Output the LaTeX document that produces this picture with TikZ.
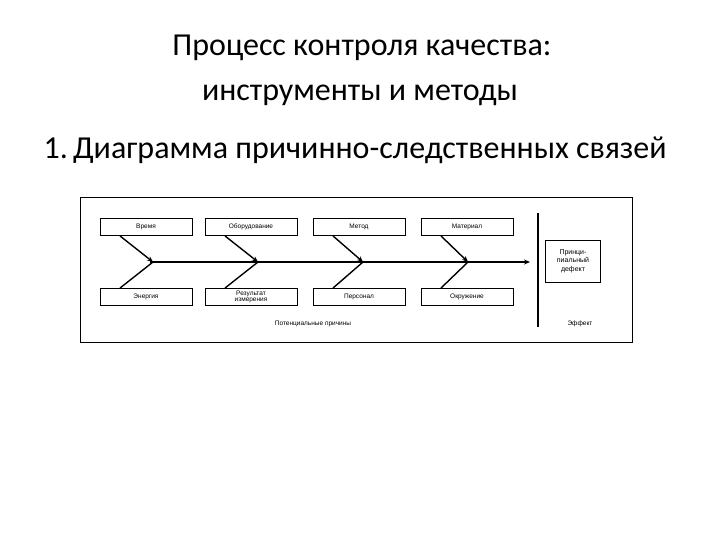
\documentclass[tikz,border=0pt]{standalone}
\usepackage{fontspec}
\usetikzlibrary{arrows.meta}
\setmainfont{Carlito}
\newfontfamily\smallsans{Liberation Sans}
\begin{document}
\begin{tikzpicture}[x=1pt,y=-1pt,
  cause/.style={draw,line width=0.9pt,minimum width=92pt,minimum height=17pt,inner sep=0pt,font=\smallsans\fontsize{6.5}{6.5}\selectfont,align=center},
  bone/.style={line width=1.4pt,-{Stealth[length=6pt,width=5pt]}},
  title/.style={font=\fontsize{32}{36}\selectfont,anchor=center}]
\useasboundingbox (0,0) rectangle (720,540);
\node[title] (t1) at (362,48) {Процесс контроля качества:};
\node[title] (t2) at (360,95) {инструменты и методы};
\node[title,anchor=west] (t3) at (40,150) {1.\,Диаграмма причинно-следственных связей};
\node[draw,line width=0.9pt,minimum width=552pt,minimum height=145pt,anchor=north west] (frame) at (80,197) {};
\foreach \n/\x/\t in {a/146/Время,b/251/Оборудование,c/359/Метод,d/467/Материал}
  \node[cause] (\n) at (\x,227) {\t};
\foreach \n/\x/\t in {e/146/Энергия,f/251/{Результат\\[-1pt]измерения},g/359/Персонал,h/467/Окружение}
  \node[cause] (\n) at (\x,297) {\t};
\coordinate (s0) at (150,262);
\coordinate (s1) at (530,262);
\draw[bone] (s0) -- (s1);
\foreach \n/\m/\x in {a/e/153,b/f/258,c/g/363,d/h/468}{
  \coordinate (p\n) at (\x,262);
  \draw[bone] ([xshift=-26pt]\n.south) -- (p\n);
  \draw[line width=1.4pt] ([xshift=-26pt]\m.north) -- (p\n);
}
\coordinate (v1) at (538,213);
\coordinate (v2) at (538,327);
\draw[line width=2.4pt] (v1) -- (v2);
\node[draw,line width=0.9pt,minimum width=55pt,minimum height=42pt,inner sep=1pt,align=center,font=\smallsans\fontsize{7}{8.5}\selectfont] (eff) at (573,261) {Принци-\\пиальный\\дефект};
\node[font=\smallsans\fontsize{6.5}{6.5}\selectfont] (lp) at (313,324) {Потенциальные причины};
\node[font=\smallsans\fontsize{6.5}{6.5}\selectfont] (le) at (580,324) {Эффект};
\end{tikzpicture}
\end{document}
